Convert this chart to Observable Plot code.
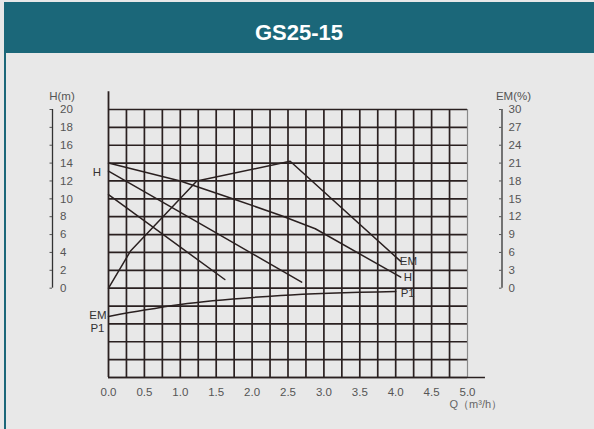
<!DOCTYPE html>
<html><head><meta charset="utf-8">
<script src="https://cdn.jsdelivr.net/npm/d3@7"></script>
<script src="https://cdn.jsdelivr.net/npm/@observablehq/plot@0.6"></script>
<style>
html,body{margin:0;padding:0;background:#e8e8e8;}
#wrap{position:relative;width:594px;height:429px;overflow:hidden;background:#e8e8e8;font-family:"Liberation Sans",Arial,sans-serif;}
#header{position:absolute;left:4px;top:2px;width:590px;height:51px;overflow:hidden;background:#1b6779;color:#fff;font-weight:bold;font-size:22px;text-align:center;line-height:61px;}
#border{position:absolute;left:4px;top:2px;width:2px;height:427px;background:#1b6779;}
#chart{position:absolute;left:0;top:53px;}
</style></head>
<body><div id="wrap"><div id="header"></div><div id="border"></div><div id="chart"></div></div>
<script>
// ---- text ----
const title = "GS25-15";
const yLabelH = "H(m)";
const yLabelEM = "EM(%)";
const xLabel = "Q\uFF08m\u00B3/h\uFF09";

// ---- ticks & grid ----
const qTicks = [0, 0.5, 1, 1.5, 2, 2.5, 3, 3.5, 4, 4.5, 5];
const hTicks = [0, 2, 4, 6, 8, 10, 12, 14, 16, 18, 20];
const emTicks = [0, 3, 6, 9, 12, 15, 18, 21, 24, 27, 30];
const gridQ = [0.25, 0.5, 0.75, 1, 1.25, 1.5, 1.75, 2, 2.25, 2.5, 2.75, 3, 3.25, 3.5, 3.75, 4, 4.25, 4.5, 4.75];
const gridH = [-10, -8, -6, -4, -2, 0, 2, 4, 6, 8, 10, 12, 14, 16, 18, 20];
const emToH = 20 / 30;   // EM axis 0..30 shares the H axis 0..20

// ---- curves ----
const hHighQ = [0, 1.0, 1.75, 2.4, 2.88, 4.07];
const hHighV = [14.0, 12.0, 9.96, 8.14, 6.65, 1.23];
const hMidQ = [0, 1.5, 2.69];
const hMidV = [13.1, 6.2, 0.67];
const hLowQ = [0, 1.62];
const hLowV = [10.46, 0.97];
const emQ = [0, 0.31, 1.23, 2.53, 4.07];
const emV = [0, 6.3, 18.0, 21.3, 4.5];
// P1 has no printed scale; values are read on the H grid (lower band)
const p1Q = [0, 0.5, 1.0, 2.4, 4.0];
const p1V = [-3.17, -2.45, -1.82, -0.82, -0.37];

document.getElementById("header").textContent = title;

const pts = (qs, vs, k = 1) => qs.map((q, i) => ({q, v: vs[i] * k}));
const hHigh = pts(hHighQ, hHighV), hMid = pts(hMidQ, hMidV), hLow = pts(hLowQ, hLowV);
const em = pts(emQ, emV, emToH), p1 = pts(p1Q, p1V);

const ink = "#2a2020";
const tickInk = "#555";

const curveLabels = [
  {...em[em.length - 1], text: "EM", dx: -1, dy: 0, anchor: "start"},
  {...hHigh[hHigh.length - 1], text: "H", dx: 3, dy: 0, anchor: "start"},
  {...p1[p1.length - 1], text: "P1", dx: 5, dy: 2, anchor: "start"},
  {...hMid[0], text: "H", dx: -11.5, dy: 1, anchor: "middle"},
  {...p1[0], text: "EM", dx: -2, dy: -1, anchor: "end"},
  {...p1[0], text: "P1", dx: -4, dy: 12, anchor: "end"}
];

const chart = Plot.plot({
  width: 594, height: 376,
  marginTop: 56, marginBottom: 52, marginLeft: 108, marginRight: 127,
  style: {background: "transparent", fontFamily: "Liberation Sans, Arial, sans-serif", fontSize: "11px", color: "#333"},
  x: {domain: [0, 5], axis: null},
  y: {domain: [-10, 20], axis: null},
  marks: [
    Plot.ruleY(gridH, {x1: 0, x2: 5, stroke: ink, strokeWidth: 1.7}),
    Plot.ruleX(gridQ, {y1: -10, y2: 20, stroke: ink, strokeWidth: 1.7}),
    Plot.ruleX([5], {y1: -10, y2: 20, stroke: "#8a8a8a", strokeWidth: 1.2}),
    Plot.ruleX([0], {y1: -10, y2: 22, stroke: ink, strokeWidth: 1.8}),
    Plot.ruleY([-10], {x1: 0, x2: 5.25, stroke: ink, strokeWidth: 1.6}),
    Plot.line(hHigh, {x: "q", y: "v", stroke: ink, strokeWidth: 1.5}),
    Plot.line(hMid, {x: "q", y: "v", stroke: ink, strokeWidth: 1.5}),
    Plot.line(hLow, {x: "q", y: "v", stroke: ink, strokeWidth: 1.5}),
    Plot.line(em, {x: "q", y: "v", stroke: ink, strokeWidth: 1.5}),
    Plot.line(p1, {x: "q", y: "v", stroke: ink, strokeWidth: 1.5, curve: "monotone-x"}),
    // left H axis
    Plot.ruleX([0], {y1: 0, y2: 20, dx: -56, stroke: "#333", strokeWidth: 1.3}),
    Plot.axisY(hTicks, {anchor: "left", label: null, dx: -56, tickSize: 2.5, tickPadding: -10, textAnchor: "start", color: tickInk, fontSize: 11.5}),
    // right EM axis
    Plot.ruleX([0], {y1: 0, y2: 20, dx: 393.5, stroke: "#333", strokeWidth: 1.3}),
    Plot.axisY(emTicks.map(e => e * emToH), {anchor: "left", label: null, dx: 393.5, tickSize: 2.5, tickPadding: -9, textAnchor: "start", tickFormat: d => Math.round(d / emToH), color: tickInk, fontSize: 11.5}),
    // x axis labels
    Plot.axisX(qTicks, {anchor: "bottom", label: null, tickSize: 0, tickPadding: 10, tickFormat: d => d.toFixed(1), color: tickInk, fontSize: 11.5}),
    Plot.text([yLabelH], {frameAnchor: "top-left", text: d => d, dx: -46.5, dy: -13, textAnchor: "middle", lineAnchor: "middle", fill: tickInk, fontSize: 11.5}),
    Plot.text([yLabelEM], {frameAnchor: "top-right", text: d => d, dx: 46, dy: -13, textAnchor: "middle", lineAnchor: "middle", fill: tickInk, fontSize: 11.5}),
    Plot.text([xLabel], {frameAnchor: "bottom-right", text: d => d, dx: -18, dy: 27, textAnchor: "start", lineAnchor: "middle", fill: "#666", fontSize: 11}),
    // curve labels
    ...curveLabels.map(d => Plot.text([d], {x: "q", y: "v", text: "text", dx: d.dx, dy: d.dy, textAnchor: d.anchor, fill: "#333", fontSize: 11.5}))
  ]
});
document.getElementById("chart").appendChild(chart);
</script>
</body></html>
